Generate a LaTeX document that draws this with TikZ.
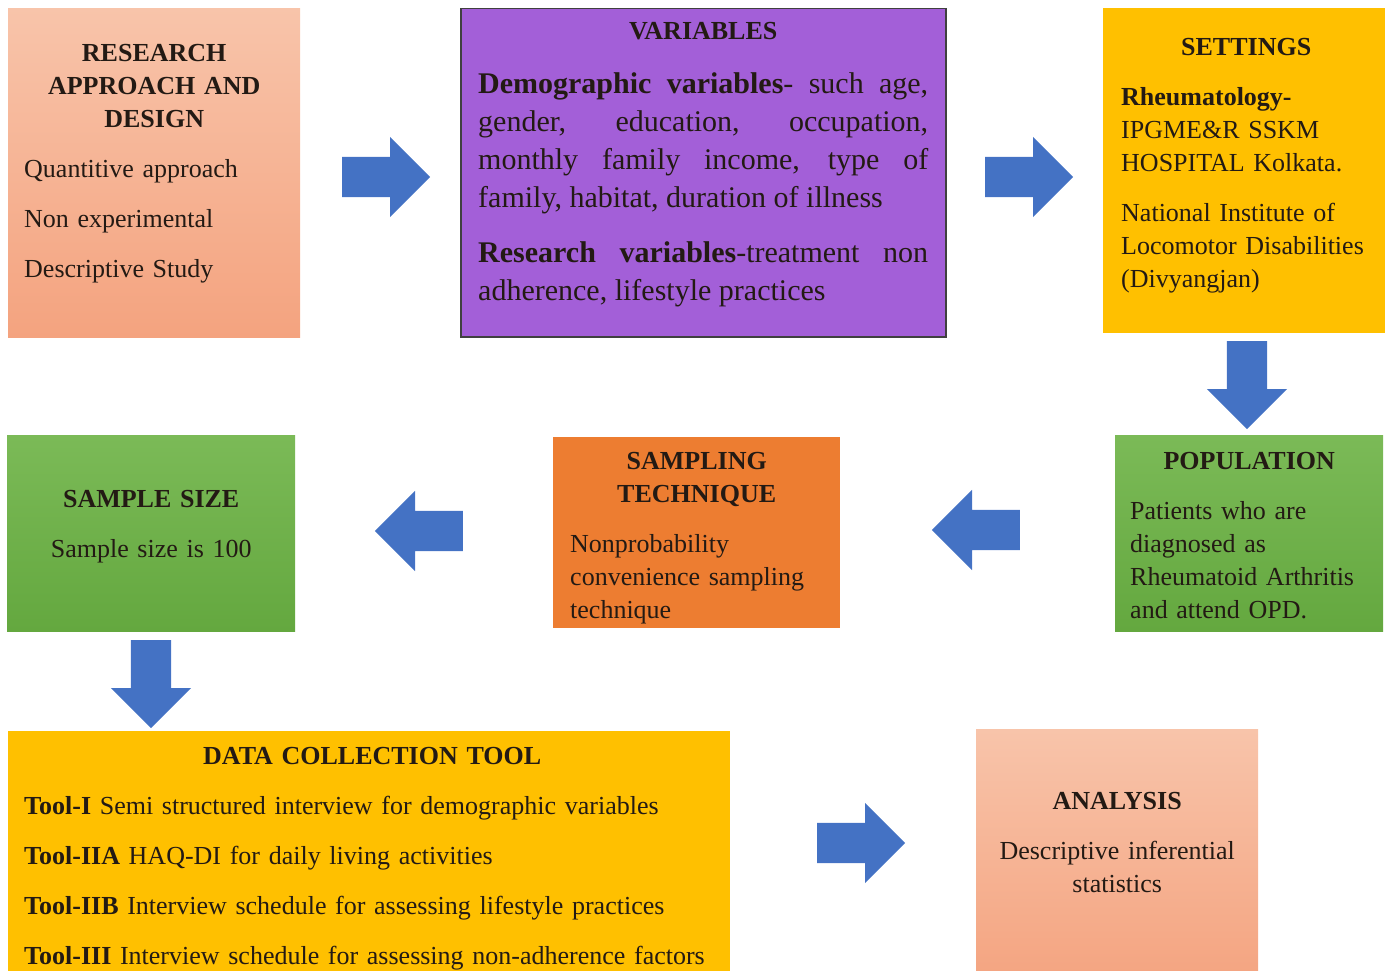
\documentclass[tikz,border=0pt]{standalone}
\usepackage{fontspec}
\setmainfont{Liberation Serif}
\usetikzlibrary{shapes.arrows}

\definecolor{peachtop}{HTML}{F8C4AA}
\definecolor{peachbot}{HTML}{F4A37F}
\definecolor{violetbox}{HTML}{A35FD8}
\definecolor{amber}{HTML}{FFC000}
\definecolor{leaftop}{HTML}{7BBA57}
\definecolor{leafbot}{HTML}{64A83F}
\definecolor{tangerine}{HTML}{ED7D31}
\definecolor{arrowblue}{HTML}{4472C4}
\definecolor{ink}{HTML}{231A14}

\newcommand{\boxgap}{\par\vspace{17pt}}

\tikzset{
  panel/.style={rectangle, inner sep=0, anchor=north west},
  peach/.style={panel, top color=peachtop, bottom color=peachbot},
  leaf/.style={panel, top color=leaftop, bottom color=leafbot},
  words/.style={inner sep=0, anchor=base west, text=ink, font=\fontsize{26}{33}\selectfont},
  bluearrow/.style={single arrow, fill=arrowblue, draw=none, anchor=tail,
    inner sep=20pt, single arrow head extend=20pt, minimum height=88pt}
}

\begin{document}
\begin{tikzpicture}[x=1pt, y=-1pt]
\useasboundingbox (0,0) rectangle (1390,971);

% boxes
\node[peach, minimum width=292pt, minimum height=329pt] (research) at (8,8) {};
\node[panel, fill=violetbox, draw=black!75, line width=1.5pt, minimum width=485pt, minimum height=328pt] (variables) at (460,8) {};
\node[panel, fill=amber, minimum width=282pt, minimum height=325pt] (settings) at (1103,8) {};
\node[leaf, minimum width=268pt, minimum height=196pt] (population) at (1115,435) {};
\node[panel, fill=tangerine, minimum width=287pt, minimum height=191pt] (sampling) at (553,437) {};
\node[leaf, minimum width=288pt, minimum height=196pt] (samplesize) at (7,435) {};
\node[panel, fill=amber, minimum width=722pt, minimum height=260pt] (datatool) at (8,731) {};
\node[peach, minimum width=282pt, minimum height=260pt] (analysis) at (976,729) {};

% texts
\node[words, text width=260pt] (researchtext) at (24,62) {%
  {\centering\bfseries RESEARCH\\ APPROACH AND\\ DESIGN\par}\boxgap
  \raggedright Quantitive approach\boxgap Non experimental\boxgap Descriptive Study};
\node[words, text width=450pt, align=justify] (variablestext) at (478,40) {%
  {\centering\bfseries VARIABLES\par}\vspace{16pt}%
  \fontsize{30}{38}\selectfont\rightskip=0pt\relax
  \textbf{Demographic variables}- such age,\linebreak gender, education, occupation,\linebreak
  monthly family income, type of\linebreak family, habitat, duration of illness\boxgap
  \textbf{Research variables}-treatment non\linebreak adherence, lifestyle practices\par};
\node[words, text width=250pt] (settingstext) at (1121,56) {%
  {\centering\bfseries SETTINGS\par}\boxgap
  \raggedright\textbf{Rheumatology-}\\ IPGME\&R SSKM\\ HOSPITAL Kolkata.\boxgap
  National Institute of\\ Locomotor Disabilities\\ (Divyangjan)};
\node[words, text width=238pt] (populationtext) at (1130,469) {%
  {\centering\bfseries POPULATION\par}\boxgap
  \raggedright Patients who are\\ diagnosed as\\ Rheumatoid Arthritis\\ and attend OPD.};
\node[words, text width=253pt] (samplingtext) at (570,469) {%
  {\centering\bfseries SAMPLING\\ TECHNIQUE\par}\boxgap
  \raggedright Nonprobability\\ convenience sampling\\ technique};
\node[words, text width=260pt] (samplesizetext) at (21,507) {%
  \centering\textbf{SAMPLE SIZE}\boxgap Sample size is 100\par};
\node[words, text width=696pt] (datatooltext) at (24,764) {%
  {\centering\bfseries DATA COLLECTION TOOL\par}\boxgap
  \raggedright\textbf{Tool-I} Semi structured interview for demographic variables\boxgap
  \textbf{Tool-IIA} HAQ-DI for daily living activities\boxgap
  \textbf{Tool-IIB} Interview schedule for assessing lifestyle practices\boxgap
  \textbf{Tool-III} Interview schedule for assessing non-adherence factors};
\node[words, text width=260pt] (analysistext) at (987,809) {%
  \centering\textbf{ANALYSIS}\boxgap Descriptive inferential\\ statistics\par};

% block arrows
\node[bluearrow] (arrow1) at (342,177) {};
\node[bluearrow] (arrow2) at (985,177) {};
\node[bluearrow, shape border rotate=270] (arrow3) at (1247,341) {};
\node[bluearrow, shape border rotate=180] (arrow4) at (1020,530) {};
\node[bluearrow, shape border rotate=180] (arrow5) at (463,531) {};
\node[bluearrow, shape border rotate=270] (arrow6) at (151,640) {};
\node[bluearrow] (arrow7) at (817,843) {};
\end{tikzpicture}
\end{document}
